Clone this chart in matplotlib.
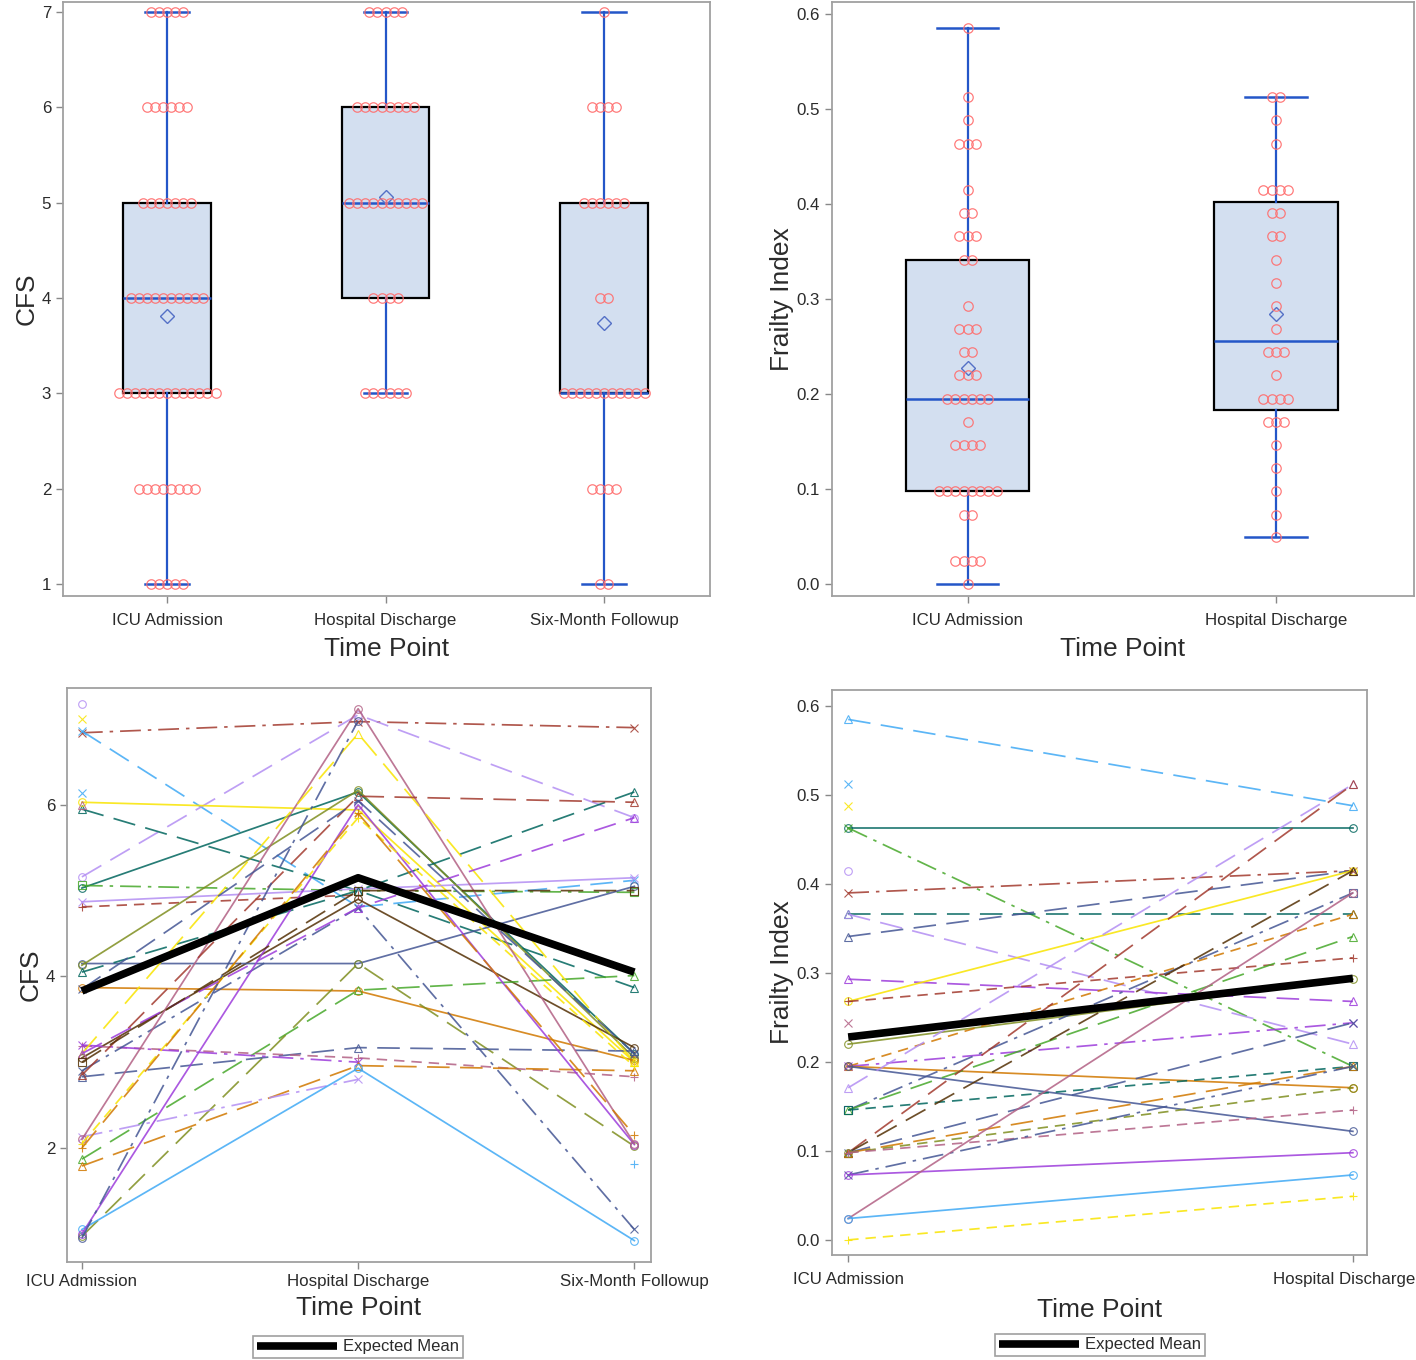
import matplotlib.pyplot as plt
import matplotlib.transforms as mtransforms
import numpy as np

plt.rcParams['font.family'] = ['Liberation Sans', 'DejaVu Sans']

time_points = ['ICU Admission', 'Hospital Discharge', 'Six-Month Followup']

# top left: number of patients at each CFS score
cfs_levels = [1, 2, 3, 4, 5, 6, 7]
cfs_counts_icu = [5, 8, 13, 10, 7, 6, 5]
cfs_counts_hosp = [0, 0, 6, 4, 10, 8, 5]
cfs_counts_six = [2, 4, 11, 2, 6, 4, 1]

# top right: number of patients at each frailty index value
fi_levels = [0.000, 0.024, 0.049, 0.073, 0.098, 0.122, 0.146, 0.171, 0.195,
             0.220, 0.244, 0.268, 0.293, 0.317, 0.341, 0.366, 0.390, 0.415,
             0.439, 0.463, 0.488, 0.512, 0.537, 0.561, 0.585]
fi_counts_icu = [1, 4, 0, 2, 8, 0, 4, 1, 6, 3, 2, 3, 1, 0, 2, 3, 2, 1,
                 0, 3, 1, 1, 0, 0, 1]
fi_counts_hosp = [0, 0, 1, 1, 1, 1, 1, 3, 4, 1, 3, 1, 1, 1, 1, 2, 2, 4,
                  0, 1, 1, 2, 0, 0, 0]

# bottom left: individual CFS trajectories (jittered as in the original)
nan = np.nan
cfs_icu = [6.84, 6.86, 5.16, 5.03, 5.95, 6.03, 5.06, 4.87, 4.81, 3.05, 4.15,
           4.13, 4.05, 3.87, 1.87, 0.97, 2.83, 3.19, 3.20, 1.79, 2.13, 1.05,
           2.90, 1.00, 2.10, 3.10, 2.05, 2.00, 2.85, 3.85, 3.10, 3.00, 0.95,
           7.17, 7.00, 6.14, 6.00, nan]
cfs_hosp = [6.97, 4.81, 7.05, 6.15, 5.00, 5.94, 5.00, 5.02, 4.95, 4.90, 4.15,
            6.17, 5.00, 3.83, 3.84, 4.15, 3.17, 3.05, 3.00, 2.96, 2.80, 2.93,
            4.80, 6.00, 7.12, 6.83, 5.85, 5.90, 6.10, 6.05, 4.80, 5.00, 6.98,
            nan, nan, nan, nan, nan]
cfs_six = [6.90, 5.12, 5.85, 3.10, 3.87, 3.00, 4.98, 5.15, nan, 3.17, 5.05,
           3.05, 6.15, 3.02, 4.01, 2.02, 3.13, 2.83, nan, 2.90, nan, 0.92,
           1.05, 2.04, 2.05, 3.00, 2.95, 2.15, 6.03, 3.10, 5.85, 5.00, nan,
           nan, nan, nan, nan, 1.81]
cfs_expected = [3.83, 5.15, 4.05]

# bottom right: individual frailty index trajectories
fi_icu = [0.585, 0.512, 0.488, 0.463, 0.463, 0.415, 0.390, 0.366, 0.366,
          0.341, 0.293, 0.268, 0.268, 0.244, 0.220, 0.195, 0.195, 0.195,
          0.195, 0.171, 0.146, 0.146, 0.146, 0.098, 0.098, 0.098, 0.098,
          0.098, 0.098, 0.073, 0.073, 0.024, 0.024, 0.000]
fi_hosp = [0.488, nan, nan, 0.463, 0.195, nan, 0.415, 0.366, 0.220,
           0.415, 0.268, 0.415, 0.317, nan, 0.293, 0.366, 0.244, 0.171,
           0.122, 0.512, 0.390, 0.341, 0.195, 0.512, 0.415, 0.244, 0.195,
           0.171, 0.146, 0.195, 0.098, 0.390, 0.073, 0.049]
fi_expected = [0.228, 0.294]

# styling of the subject lines
pal = {'bg': '#445694', 'br': '#A23A2E', 'tl': '#01665E', 'bn': '#543005',
       'pu': '#9D3CDB', 'ol': '#7F8E1F', 'lb': '#3FA9F5', 'mv': '#B26084',
       'or': '#D17800', 'gr': '#47A82A', 'lv': '#B38EF3', 'ye': '#F9E400'}
dash = {'solid': '-', 'dash': (0, (6, 4)), 'long': (0, (13, 6)),
        'dashdot': (0, (12, 4, 2, 4))}

cfs_style = [('br', 'dashdot', 'x'), ('lb', 'long', 'x'), ('lv', 'long', 'o'),
             ('tl', 'solid', 'o'), ('tl', 'long', '^'), ('ye', 'solid', 'o'),
             ('gr', 'dashdot', 's'), ('lv', 'solid', 'x'), ('br', 'dash', '+'),
             ('bn', 'solid', 'o'), ('bg', 'solid', 'o'), ('ol', 'solid', 'o'),
             ('tl', 'long', '^'), ('or', 'solid', 'o'), ('gr', 'long', '^'),
             ('ol', 'long', 'o'), ('bg', 'long', '^'), ('mv', 'dash', '+'),
             ('pu', 'dashdot', 'x'), ('or', 'long', '^'), ('lv', 'dashdot', 'x'),
             ('lb', 'solid', 'o'), ('bg', 'dashdot', 'x'), ('pu', 'solid', 'o'),
             ('mv', 'solid', 'o'), ('ye', 'long', '^'), ('ye', 'dash', '+'),
             ('or', 'long', '+'), ('br', 'long', '^'), ('bg', 'long', 'x'),
             ('pu', 'long', '^'), ('bn', 'long', 's'), ('bg', 'dashdot', 'o'),
             ('lv', 'solid', 'o'), ('ye', 'solid', 'x'), ('lb', 'solid', 'x'),
             ('mv', 'solid', '^'), ('lb', 'solid', '+')]

fi_style = [('lb', 'long', '^'), ('lb', 'solid', 'x'), ('ye', 'solid', 'x'),
            ('tl', 'solid', 'o'), ('gr', 'dashdot', 'x'), ('lv', 'solid', 'o'),
            ('br', 'dashdot', 'x'), ('tl', 'long', '^'), ('lv', 'long', '^'),
            ('bg', 'long', '^'), ('pu', 'long', '^'), ('ye', 'solid', 'o'),
            ('br', 'dash', '+'), ('mv', 'solid', 'x'), ('ol', 'solid', 'o'),
            ('or', 'dash', '^'), ('pu', 'dashdot', 'x'), ('or', 'solid', 'o'),
            ('bg', 'solid', 'o'), ('lv', 'long', '^'), ('bg', 'dashdot', 's'),
            ('gr', 'long', '^'), ('tl', 'dash', 's'), ('br', 'long', '^'),
            ('bn', 'long', '^'), ('bg', 'long', 'x'), ('or', 'long', '^'),
            ('ol', 'dash', 'o'), ('mv', 'dash', '+'), ('bg', 'dashdot', 'x'),
            ('pu', 'solid', 'o'), ('mv', 'solid', 'o'), ('lb', 'solid', 'o'),
            ('ye', 'dash', '+')]

TXT = '#2b2b2b'
FRAME = '#A0A0A0'
BOX_FACE = '#D3DFF0'
BLUE = '#2456C8'
DOT = '#FF6E6E'


def box_stats(levels, counts):
    vals = np.repeat(levels, counts)
    q1, med, q3 = np.percentile(vals, [25, 50, 75], method='averaged_inverted_cdf')
    iqr = q3 - q1
    lo = vals[vals >= q1 - 1.5 * iqr].min()
    hi = vals[vals <= q3 + 1.5 * iqr].max()
    return dict(q1=q1, med=med, q3=q3, whislo=lo, whishi=hi,
                mean=vals.mean(), fliers=[])


def style_axes(ax, xpad, labelpad):
    for sp in ax.spines.values():
        sp.set_color(FRAME)
        sp.set_linewidth(1.3)
    ax.tick_params(colors='#888888', labelcolor=TXT, labelsize=12.2,
                   length=5, width=1)
    ax.tick_params(axis='x', pad=xpad)
    ax.set_xlabel('Time Point', fontsize=19, color=TXT, labelpad=labelpad)


def box_panel(ax, levels, counts_list, step, ylabel):
    stats = [box_stats(levels, c) for c in counts_list]
    pos = np.arange(len(stats))
    ax.bxp(stats, positions=pos, widths=0.4, capwidths=0.2, patch_artist=True,
           showmeans=True, showfliers=False,
           boxprops=dict(facecolor=BOX_FACE, edgecolor='black', linewidth=1.6),
           whiskerprops=dict(color=BLUE, linewidth=1.6),
           capprops=dict(color=BLUE, linewidth=1.8),
           medianprops=dict(color=BLUE, linewidth=1.8),
           meanprops=dict(marker='D', markerfacecolor='none',
                          markeredgecolor='#5470C6', markersize=7.5,
                          markeredgewidth=1.0))
    for x0, counts in zip(pos, counts_list):
        for v, n in zip(levels, counts):
            if n == 0:
                continue
            xs = x0 + (np.arange(n) - (n - 1) / 2) * step
            ax.plot(xs, [v] * n, 'o', mfc='none', mec=DOT, ms=6.8,
                    mew=0.9, alpha=0.9, zorder=5)
    ax.set_xticks(pos)
    ax.set_xticklabels(time_points[:len(stats)])
    ax.set_ylabel(ylabel, fontsize=19, color=TXT, labelpad=2)
    style_axes(ax, 7, 7)


def spaghetti_panel(ax, series, styles, expected, ylabel, xpad, labelpad):
    x = np.arange(len(series))
    for i, st in enumerate(styles):
        c, ls, mk = st
        y = [s[i] for s in series]
        ax.plot(x, y, linestyle=dash[ls], color=pal[c], lw=1.25, alpha=0.85,
                marker=mk, ms=5.5, mfc='none', mew=0.8, zorder=2)
    line, = ax.plot(x, expected, color='black', lw=5.5, zorder=4,
                    solid_capstyle='butt')
    ax.set_xticks(x)
    ax.set_xticklabels(time_points[:len(series)])
    ax.set_ylabel(ylabel, fontsize=19, color=TXT, labelpad=2)
    style_axes(ax, xpad, labelpad)
    return line


fig = plt.figure(figsize=(14.16, 13.6), dpi=100)

ax1 = fig.add_axes([0.0445, 0.5618, 0.457, 0.4368])
box_panel(ax1, cfs_levels, [cfs_counts_icu, cfs_counts_hosp, cfs_counts_six],
          0.037, 'CFS')
ax1.set_xlim(-0.476, 2.485)
ax1.set_ylim(0.875, 7.105)
ax1.set_yticks(range(1, 8))

ax2 = fig.add_axes([0.5876, 0.5618, 0.411, 0.4368])
box_panel(ax2, fi_levels, [fi_counts_icu, fi_counts_hosp], 0.027,
          'Frailty Index')
ax2.set_xlim(-0.44, 1.448)
ax2.set_ylim(-0.0125, 0.6125)
ax2.set_yticks(np.arange(0, 0.61, 0.1))
ax2.yaxis.set_major_formatter('{x:.1f}')

ax3 = fig.add_axes([0.0473, 0.072, 0.4124, 0.422])
l3 = spaghetti_panel(ax3, [cfs_icu, cfs_hosp, cfs_six], cfs_style,
                     cfs_expected, 'CFS', 3.5, 5)
ax3.set_xlim(-0.054, 2.06)
ax3.set_ylim(0.67, 7.36)
ax3.set_yticks([2, 4, 6])

ax4 = fig.add_axes([0.5876, 0.0772, 0.3778, 0.4154])
l4 = spaghetti_panel(ax4, [fi_icu, fi_hosp], fi_style, fi_expected,
                     'Frailty Index', 7, 8)
ax4.set_xlim(-0.032, 1.028)
ax4.set_ylim(-0.017, 0.618)
ax4.set_yticks(np.arange(0, 0.61, 0.1))
ax4.yaxis.set_major_formatter('{x:.1f}')
# keep the last tick label inside the figure, as the original does
last = ax4.get_xticklabels()[-1]
last.set_transform(last.get_transform() +
                   mtransforms.ScaledTranslation(-9 / 100, 0, fig.dpi_scale_trans))

for line, xc, yc in [(l3, 358, 1347), (l4, 1100, 1345)]:
    leg = fig.legend([line], ['Expected Mean'], loc='center',
                     bbox_to_anchor=(xc / 1416, 1 - yc / 1360),
                     fontsize=12, handlelength=4.8, handletextpad=0.4,
                     borderpad=0.2, fancybox=False, framealpha=1)
    leg.get_frame().set_edgecolor(FRAME)
    leg.get_frame().set_linewidth(1.2)
    for t in leg.get_texts():
        t.set_color(TXT)

plt.savefig('out.png', dpi=100)
